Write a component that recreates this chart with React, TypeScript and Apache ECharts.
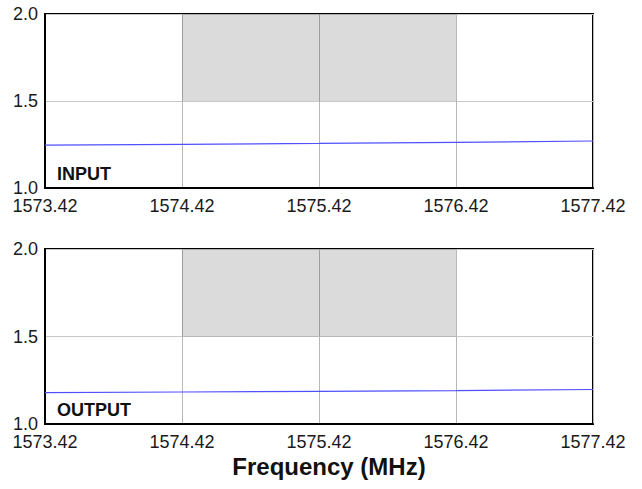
import React, { useEffect, useRef } from "react";
import * as echarts from "echarts";

const freqs = [1573.42, 1574.42, 1575.42, 1576.42, 1577.42];
const inputVswr = [1.246, 1.251, 1.256, 1.262, 1.27];
const outputVswr = [1.179, 1.183, 1.187, 1.191, 1.197];
const bandStart = 1574.42;
const bandEnd = 1576.42;
const limitLow = 1.5;
const limitHigh = 2.0;
const panelLabels = ["INPUT", "OUTPUT"];
const xTitle = "Frequency (MHz)";

const FONT = "'Liberation Sans', Arial, Helvetica, sans-serif";

export default function App() {
  const ref = useRef<HTMLDivElement>(null);
  useEffect(() => {
    if (!ref.current) return;
    const chart = echarts.init(ref.current, undefined, { renderer: "svg" });
    const grids = [
      { left: 45, top: 14, width: 548, height: 174 },
      { left: 45, top: 249, width: 548, height: 175 },
    ];
    const xAxes = grids.map((_, i) => ({
      type: "value",
      gridIndex: i,
      min: freqs[0],
      max: freqs[freqs.length - 1],
      interval: 1,
      axisLine: { show: true, onZero: false, lineStyle: { color: "#000", width: 2 } },
      axisTick: { show: false },
      axisLabel: {
        margin: 10,
        fontSize: 18,
        lineHeight: 15,
        fontFamily: FONT,
        color: "#1a1a1a",
        formatter: (v: number) => v.toFixed(2),
      },
      splitLine: { show: true, lineStyle: { color: "#b8b8b8", width: 1 } },
    }));
    const yAxes = grids.map((_, i) => ({
      type: "value",
      gridIndex: i,
      min: 1,
      max: 2,
      interval: 0.5,
      axisLine: { show: true, onZero: false, lineStyle: { color: "#000", width: 2 } },
      axisTick: { show: false },
      axisLabel: {
        margin: 7,
        fontSize: 18,
        lineHeight: 14,
        fontFamily: FONT,
        color: "#1a1a1a",
        formatter: (v: number) => v.toFixed(1),
      },
      splitLine: { show: true, lineStyle: { color: "#c8c8c8", width: 1 } },
    }));
    const seriesData = [inputVswr, outputVswr];
    const series = seriesData.map((vals, i) => ({
      type: "line",
      xAxisIndex: i,
      yAxisIndex: i,
      data: freqs.map((f, k) => [f, vals[k]]),
      showSymbol: false,
      lineStyle: { color: "#5050ff", width: 1.2 },
      markArea: {
        silent: true,
        itemStyle: { color: "rgba(0,0,0,0.14)" },
        data: [[{ coord: [bandStart, limitLow] }, { coord: [bandEnd, limitHigh] }]],
      },
    }));
    chart.setOption({
      animation: false,
      grid: grids.map((g) => ({
        ...g,
        show: true,
        borderColor: "#000",
        borderWidth: 2,
        backgroundColor: "transparent",
      })),
      xAxis: xAxes,
      yAxis: yAxes,
      series,
      graphic: [
        {
          type: "text",
          left: 57,
          top: 165,
          style: { text: panelLabels[0], font: `bold 18px ${FONT}`, fill: "#111" },
        },
        {
          type: "text",
          left: 57,
          top: 401,
          style: { text: panelLabels[1], font: `bold 18px ${FONT}`, fill: "#111" },
        },
        {
          type: "text",
          x: 329,
          y: 466,
          style: {
            text: xTitle,
            font: `bold 24px ${FONT}`,
            lineHeight: 20,
            fill: "#111",
            align: "center",
            verticalAlign: "middle",
          },
        },
      ],
    });
    return () => chart.dispose();
  }, []);
  return (
    <div
      ref={ref}
      style={{ position: "fixed", left: 0, top: 0, width: 642, height: 489, background: "#fff" }}
    />
  );
}
